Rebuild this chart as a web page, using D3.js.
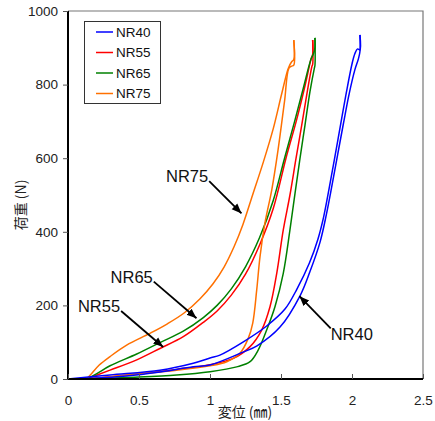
<!DOCTYPE html>
<html><head><meta charset="utf-8">
<script src="https://cdn.jsdelivr.net/npm/d3@7"></script>
<style>
body{margin:0;background:#fff;}
text{font-family:"Liberation Sans",Arial,sans-serif;}
.cjk{font-family:"Noto Sans CJK JP","Liberation Sans",sans-serif;}
</style></head>
<body><svg id="c" width="435" height="421"></svg>
<script>
// ---- data ----
const seriesNames = ["NR40","NR55","NR65","NR75"];
const seriesColors = ["#0000ff","#ff0000","#008000","#ff7000"];
const xTicks = [0,0.5,1,1.5,2,2.5];
const yTicks = [0,200,400,600,800,1000];

// [displacement mm, load N]
const nr40Load = [[0,0],[0.296,11],[0.648,24],[0.882,43],[1.0,57],[1.07,65],[1.235,101],[1.399,144],[1.528,190],[1.613,245],[1.70,315],[1.76,380],[1.80,440],[1.84,520],[1.88,605],[1.92,692],[1.96,778],[2.0,856],[2.02,884],[2.04,897],[2.056,894],[2.056,935]];
const nr40Unload = [[2.056,935],[2.056,890],[2.045,870],[2.02,840],[1.98,775],[1.94,695],[1.90,612],[1.86,528],[1.82,448],[1.775,372],[1.704,292],[1.634,226],[1.493,141],[1.331,90],[1.232,73],[1.0,38],[0.882,33],[0.648,19],[0.413,8],[0.176,2],[0,0]];
const nr55Load = [[0.132,0],[0.20,10],[0.296,24],[0.484,52],[0.648,83],[0.812,115],[0.953,154],[1.05,185],[1.15,228],[1.25,285],[1.35,365],[1.446,464],[1.535,600],[1.607,700],[1.665,790],[1.712,870],[1.723,882],[1.723,921]];
const nr55Unload = [[1.723,921],[1.723,855],[1.718,850],[1.685,781],[1.646,690],[1.606,600],[1.563,500],[1.516,405],[1.47,287],[1.423,197],[1.364,133],[1.282,88],[1.164,56],[1.0,39],[0.765,26],[0.53,15],[0.296,6],[0.132,0]];
const nr65Load = [[0.132,0],[0.20,14],[0.296,36],[0.484,68],[0.648,99],[0.812,130],[0.953,167],[1.05,200],[1.15,245],[1.25,305],[1.35,385],[1.446,486],[1.525,600],[1.596,700],[1.657,790],[1.712,870],[1.73,885],[1.739,900],[1.739,927]];
const nr65Unload = [[1.739,927],[1.739,852],[1.735,845],[1.704,781],[1.669,690],[1.634,600],[1.599,505],[1.563,405],[1.516,287],[1.458,197],[1.399,133],[1.34,79],[1.282,47],[1.188,33],[1.0,20],[0.765,11],[0.413,4],[0.178,0]];
const nr75Load = [[0.132,0],[0.16,12],[0.22,38],[0.296,61],[0.413,92],[0.577,124],[0.70,150],[0.82,180],[0.93,218],[1.02,258],[1.10,305],[1.17,360],[1.232,420],[1.30,500],[1.376,590],[1.446,681],[1.505,775],[1.551,844],[1.575,862],[1.59,868],[1.59,921]];
const nr75Unload = [[1.59,921],[1.59,853],[1.575,850],[1.556,845],[1.525,755],[1.479,622],[1.435,514],[1.387,424],[1.352,332],[1.329,242],[1.301,152],[1.27,111],[1.211,70],[1.118,47],[1.0,36],[0.765,24],[0.53,15],[0.296,6],[0.132,0]];

// annotation labels: [name, text anchor point (mm,N), arrow tip (mm,N)]
const annotations = [
  ["NR75",[0.69,535],[1.222,450]],
  ["NR65",[0.30,262],[0.905,165]],
  ["NR55",[0.07,182],[0.67,87]],
  ["NR40",[1.85,105],[1.63,225]]
];

// ---- chart ----
const svg = d3.select("#c");
const L=68,R=423,T=11,B=379;
const x = d3.scaleLinear().domain([0,2.5]).range([L,R]);
const y = d3.scaleLinear().domain([0,1000]).range([B,T]);

svg.append("path").attr("d",`M${L},${T}H${R}V${B}`).attr("fill","none").attr("stroke","#777").attr("stroke-width",1.2);

const curves = [[nr40Load,nr40Unload],[nr55Load,nr55Unload],[nr65Load,nr65Unload],[nr75Load,nr75Unload]];
const line = d3.line().x(d=>x(d[0])).y(d=>y(d[1])).curve(d3.curveCatmullRom.alpha(0.5));
const plot = svg.append("g");
[1,2,3,0].forEach(i=>{
  curves[i].forEach(c=>{
    plot.append("path").attr("d",line(c)).attr("fill","none").attr("stroke",seriesColors[i]).attr("stroke-width",1.5);
  });
});

const yAxis = svg.append("g").attr("transform",`translate(${L},0)`)
  .call(d3.axisLeft(y).tickValues(yTicks).tickSize(5).tickPadding(5).tickFormat(d3.format("d")));
const xAxis = svg.append("g").attr("transform",`translate(0,${B})`)
  .call(d3.axisBottom(x).tickValues(xTicks).tickSize(-5).tickPadding(16).tickFormat(d=>String(d)));
[yAxis,xAxis].forEach(g=>{
  g.select(".domain").attr("stroke","#000").attr("stroke-width",2);
  g.selectAll(".tick line").attr("stroke","#555").attr("stroke-width",1);
  g.selectAll(".tick text").attr("font-size",13.5).attr("fill","#222").attr("font-family","Liberation Sans, Arial, sans-serif");
});
xAxis.select(".domain").attr("d",`M${L},0H${R}`);
yAxis.select(".domain").attr("d",`M0,${B}V${T}`);

svg.append("text").attr("class","cjk").attr("x",245).attr("y",417).attr("text-anchor","middle")
  .attr("font-size",14).attr("fill","#222").text("変位 (㎜)");
svg.append("text").attr("class","cjk").attr("transform","translate(26,205) rotate(-90)").attr("text-anchor","middle")
  .attr("font-size",14).attr("fill","#222").text("荷重 (N)");

const lg = svg.append("g");
lg.append("rect").attr("x",84.5).attr("y",21.5).attr("width",76).attr("height",82).attr("fill","#fff").attr("stroke","#333").attr("stroke-width",1);
seriesNames.forEach((n,i)=>{
  const yy = 32 + i*20.5;
  lg.append("line").attr("x1",96).attr("x2",113).attr("y1",yy).attr("y2",yy).attr("stroke",seriesColors[i]).attr("stroke-width",1.5);
  lg.append("text").attr("x",116).attr("y",yy+4.8).attr("font-size",13.5).attr("fill","#111").text(n);
});

svg.append("defs").append("marker").attr("id","ah").attr("viewBox","0 0 10 10").attr("refX",10).attr("refY",5)
  .attr("markerWidth",5.5).attr("markerHeight",5.5).attr("orient","auto").attr("markerUnits","strokeWidth")
  .append("path").attr("d","M0,1L10,5L0,9Z").attr("fill","#000");
annotations.forEach(a=>{
  const tx=x(a[1][0]), ty=y(a[1][1]);
  const t = svg.append("text").attr("x",tx).attr("y",ty).attr("font-size",16.5).attr("fill","#111").text(a[0]);
  const w = t.node().getComputedTextLength();
  const sx = a[0]==="NR40" ? tx : tx + w + 1;
  const sy = a[0]==="NR40" ? ty - 12 : ty - 1;
  svg.append("line").attr("x1",sx).attr("y1",sy).attr("x2",x(a[2][0])).attr("y2",y(a[2][1]))
    .attr("stroke","#000").attr("stroke-width",1.8).attr("marker-end","url(#ah)");
});
</script></body></html>
